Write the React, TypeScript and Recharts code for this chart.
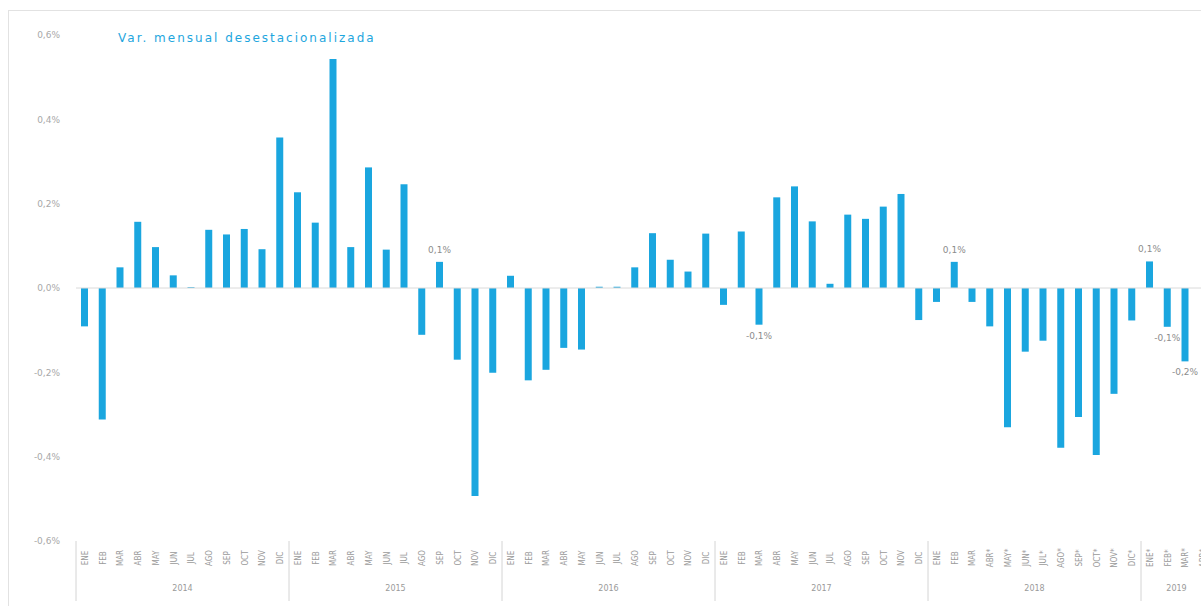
import React from 'react';
import { BarChart, Bar, XAxis, YAxis, ReferenceLine, LabelList } from 'recharts';

// meses y años del eje
const months = ['ENE', 'FEB', 'MAR', 'ABR', 'MAY', 'JUN', 'JUL', 'AGO', 'SEP', 'OCT', 'NOV', 'DIC'];
const years = ['2014', '2015', '2016', '2017', '2018', '2019'];
const ticks2018 = ['ENE', 'FEB', 'MAR', 'ABR*', 'MAY*', 'JUN*', 'JUL*', 'AGO*', 'SEP*', 'OCT*', 'NOV*', 'DIC*'];
const ticks2019 = ['ENE*', 'FEB*', 'MAR*', 'ABR*'];

// variación mensual desestacionalizada (%)
const v2014 = [-0.091, -0.312, 0.049, 0.157, 0.097, 0.03, 0.002, 0.138, 0.127, 0.14, 0.092, 0.357];
const v2015 = [0.227, 0.155, 0.543, 0.097, 0.286, 0.091, 0.246, -0.111, 0.062, -0.17, -0.493, -0.201];
const v2016 = [0.029, -0.219, -0.194, -0.142, -0.146, 0.003, 0.003, 0.049, 0.13, 0.067, 0.039, 0.129];
const v2017 = [-0.04, 0.134, -0.087, 0.215, 0.241, 0.158, 0.01, 0.174, 0.164, 0.193, 0.223, -0.076];
const v2018 = [-0.033, 0.062, -0.033, -0.091, -0.33, -0.151, -0.125, -0.379, -0.306, -0.396, -0.251, -0.077];
const v2019 = [0.063, -0.092, -0.174, null];

// barras con etiqueta de valor
const labelled = ['SEP-2015', 'MAR-2017', 'FEB-2018', 'ENE-2019', 'FEB-2019', 'MAR-2019'];

const yTicks = [-0.6, -0.4, -0.2, 0, 0.2, 0.4, 0.6];

const seriesByYear: Record<string, (number | null)[]> = {
  '2014': v2014, '2015': v2015, '2016': v2016, '2017': v2017, '2018': v2018, '2019': v2019,
};
const tickLabelsByYear: Record<string, string[]> = { '2018': ticks2018, '2019': ticks2019 };

const data = years.flatMap(anio =>
  seriesByYear[anio].map((valor, i) => ({
    key: `${months[i]}-${anio}`,
    mes: (tickLabelsByYear[anio] || months)[i],
    anio,
    first: i === 0,
    count: seriesByYear[anio].length,
    valor,
  }))
);

const BAND = 17.75;
const PLOT_BOTTOM = 541;

const fmt = (v: number) => `${v.toFixed(1).replace('.', ',')}%`;

const MonthTick = (props: any) => {
  const { x, payload } = props;
  const d = data[payload.index];
  if (!d) return null;
  const y = PLOT_BOTTOM;
  return (
    <g>
      <text
        transform={`translate(${x + 3},${y + 17}) rotate(-90)`}
        textAnchor="middle"
        fontSize={8}
        fill="#9a9a9a"
        fontFamily="DejaVu Sans Condensed, DejaVu Sans"
      >
        {d.mes}
      </text>
      {d.first && (
        <>
          <line x1={x - BAND / 2} x2={x - BAND / 2} y1={y} y2={y + 60} stroke="#d4d4d4" />
          <text
            x={x - BAND / 2 + (d.count * BAND) / 2}
            y={y + 50}
            textAnchor="middle"
            fontSize={8}
            fill="#9a9a9a"
            fontFamily="DejaVu Sans"
          >
            {d.anio}
          </text>
        </>
      )}
    </g>
  );
};

const renderLabel = (props: any) => {
  const { x, y, width, height, value, index } = props;
  const d = data[index];
  if (!d || value == null || !labelled.includes(d.key)) return null;
  const top = Math.min(y, y + height);
  const bottom = Math.max(y, y + height);
  const ty = value >= 0 ? top - 9 : bottom + 14;
  return (
    <text x={x + width / 2} y={ty} textAnchor="middle" fontSize={9} fill="#8c8c8c" fontFamily="DejaVu Sans">
      {fmt(Math.round(value * 10) / 10)}
    </text>
  );
};

export default function App() {
  return (
    <div style={{ position: 'relative', width: 1201, height: 606, overflow: 'hidden', background: '#fff' }}>
      <style>{'body{margin:0}'}</style>
      <div
        style={{
          position: 'absolute', left: 8, top: 10, right: 0, bottom: 0,
          borderLeft: '1px solid #e2e2e2', borderTop: '1px solid #e2e2e2',
        }}
      />
      <div
        style={{
          position: 'absolute', left: 118, top: 31, fontSize: 12, letterSpacing: 2,
          color: '#1ea6de', fontFamily: 'DejaVu Sans', whiteSpace: 'nowrap',
        }}
      >
        Var. mensual desestacionalizada
      </div>
      <BarChart
        width={1212}
        height={606}
        data={data}
        margin={{ top: 35, right: 0, left: 6, bottom: 5 }}
        barSize={7}
        style={{ position: 'absolute', left: 0, top: 0 }}
      >
        <XAxis
          dataKey="key"
          height={60}
          interval={0}
          axisLine={false}
          tickLine={false}
          tick={(p: any) => <MonthTick {...p} />}
        />
        <YAxis
          width={70}
          domain={[-0.6, 0.6]}
          ticks={yTicks}
          tickFormatter={fmt}
          axisLine={false}
          tickLine={false}
          tickMargin={10}
          tick={{ fontSize: 9, fill: '#a8a8a8', fontFamily: 'DejaVu Sans' }}
        />
        <ReferenceLine y={0} stroke="#dadada" />
        <Bar dataKey="valor" fill="#1aa6df" isAnimationActive={false}>
          <LabelList dataKey="valor" content={renderLabel} />
        </Bar>
      </BarChart>
    </div>
  );
}
